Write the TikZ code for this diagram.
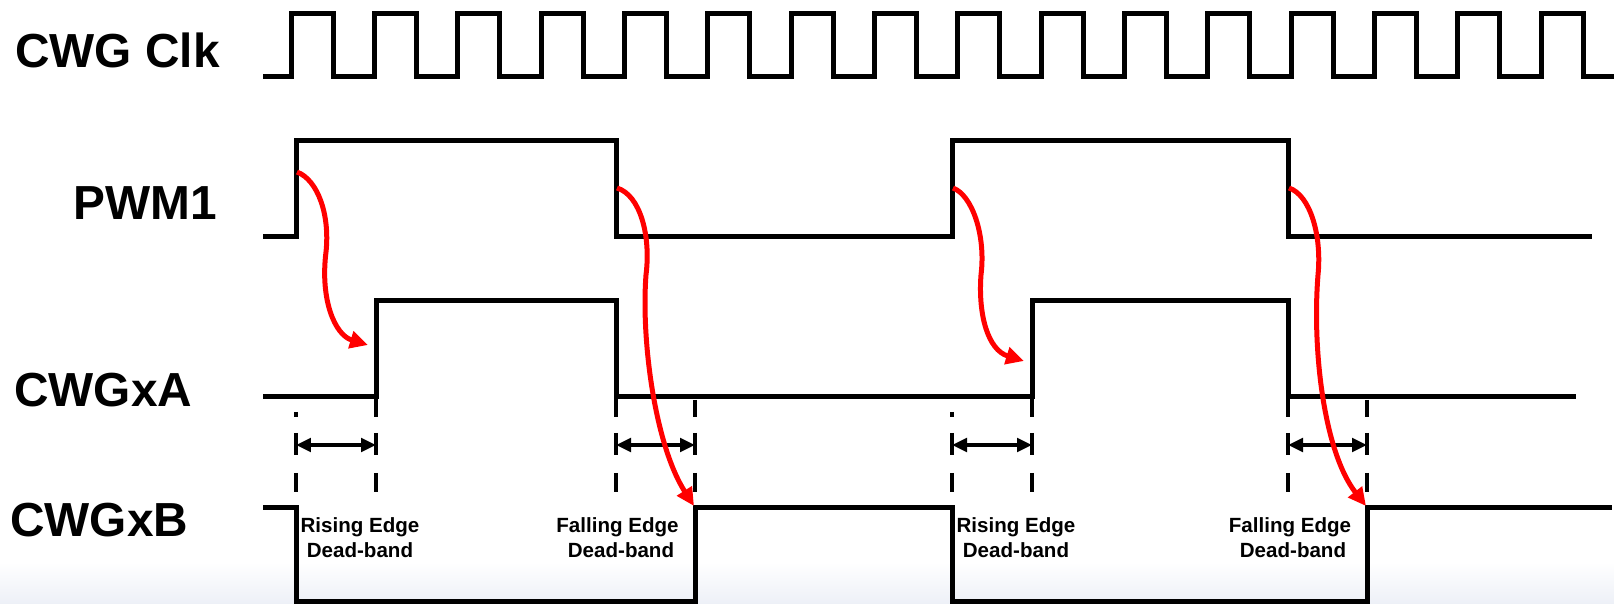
\documentclass[tikz,border=0pt]{standalone}
\usepackage{fontspec}
\setmainfont{Liberation Sans}
\usetikzlibrary{arrows.meta}
\definecolor{bandbg}{RGB}{237,240,247}
\begin{document}
\begin{tikzpicture}[x=0.02cm,y=-0.02cm,
  wave/.style={line width=0.1cm, line join=miter},
  guide/.style={line width=0.08cm},
  span/.style={line width=0.08cm, {Triangle[length=0.3cm,width=0.27cm]}-{Triangle[length=0.3cm,width=0.27cm]}},
  cause/.style={line width=0.1cm, red, -{Triangle[length=0.36cm,width=0.34cm]}},
  siglabel/.style={anchor=base west, inner sep=0pt, font=\fontsize{27.2}{30}\selectfont\bfseries},
  dblabel/.style={anchor=base, inner sep=0pt, font=\fontsize{11.7}{14}\selectfont\bfseries}]
\useasboundingbox (0,0) rectangle (1614,604);
\fill[white] (0,0) rectangle (1614,604);
\shade[top color=white, bottom color=bandbg] (0,562) rectangle (1614,604);

% signal labels
\node[siglabel] (lclk) at (15,68) {CWG Clk};
\node[siglabel] (lpwm) at (73,220) {PWM1};
\node[siglabel] (la) at (14,406.7) {CWGxA};
\node[siglabel] (lb) at (10,536.7) {CWGxB};

% clock
\draw[wave] (263,76.5) \foreach \k in {0,...,15}{
  -- ({291+83.333*\k},76.5) -- ({291+83.333*\k},13.5)
  -- ({333+83.333*\k},13.5) -- ({333+83.333*\k},76.5)} -- (1614,76.5);

% PWM1
\draw[wave] (263,237) -- (296,237) -- (296,141) -- (616,141) -- (616,237)
  -- (952,237) -- (952,141) -- (1288,141) -- (1288,237) -- (1592,237);
% CWGxA
\draw[wave] (263,397) -- (376,397) -- (376,301) -- (616,301) -- (616,397)
  -- (1032,397) -- (1032,301) -- (1288,301) -- (1288,397) -- (1576,397);
% CWGxB
\draw[wave] (263,508) -- (296,508) -- (296,602) -- (695,602) -- (695,508)
  -- (952,508) -- (952,602) -- (1367,602) -- (1367,508) -- (1612,508);

% dashed guides
\foreach \x in {376,616,1032,1288}
  \draw[guide] (\x,397) -- (\x,417) (\x,433) -- (\x,455) (\x,473) -- (\x,492);
\foreach \x in {296,952}
  \draw[guide] (\x,412) -- (\x,417) (\x,433) -- (\x,455) (\x,473) -- (\x,492);
\foreach \x in {695,1367}
  \draw[guide] (\x,400) -- (\x,417) (\x,433) -- (\x,455) (\x,473) -- (\x,492);

% dead-band spans
\coordinate (s1a) at (296,445); \coordinate (s1b) at (376,445);
\coordinate (s2a) at (616,445); \coordinate (s2b) at (695,445);
\coordinate (s3a) at (952,445); \coordinate (s3b) at (1032,445);
\coordinate (s4a) at (1288,445); \coordinate (s4b) at (1367,445);
\draw[span] (s1a) -- (s1b);
\draw[span] (s2a) -- (s2b);
\draw[span] (s3a) -- (s3b);
\draw[span] (s4a) -- (s4b);

% dead-band labels
\node[dblabel] (r1a) at (360,532.7) {Rising Edge};
\node[dblabel] (r1b) at (360,558) {Dead-band};
\node[dblabel] (f1a) at (617.5,532.7) {Falling Edge};
\node[dblabel] (f1b) at (621,558) {Dead-band};
\node[dblabel] (r2a) at (1016,532.7) {Rising Edge};
\node[dblabel] (r2b) at (1016,558) {Dead-band};
\node[dblabel] (f2a) at (1290,532.7) {Falling Edge};
\node[dblabel] (f2b) at (1293,558) {Dead-band};

% red cause arrows
\coordinate (pr1) at (297,172);  \coordinate (ar1) at (368,345);
\coordinate (pf1) at (617,188);  \coordinate (bf1) at (694,506);
\coordinate (pr2) at (953,188);  \coordinate (ar2) at (1024,361);
\coordinate (pf2) at (1289,188); \coordinate (bf2) at (1366,506);
\draw[cause] (pr1) .. controls (318,180) and (330,215) .. (326,252)
  .. controls (320,300) and (335,335) .. (ar1);
\draw[cause] (pf1) .. controls (640,195) and (651,235) .. (646,275)
  .. controls (641,340) and (655,445) .. (bf1);
\draw[cause] (pr2) .. controls (972,195) and (986,235) .. (981,275)
  .. controls (978,315) and (988,350) .. (ar2);
\draw[cause] (pf2) .. controls (1310,195) and (1322,235) .. (1318,275)
  .. controls (1312,350) and (1324,452) .. (bf2);
\end{tikzpicture}
\end{document}
